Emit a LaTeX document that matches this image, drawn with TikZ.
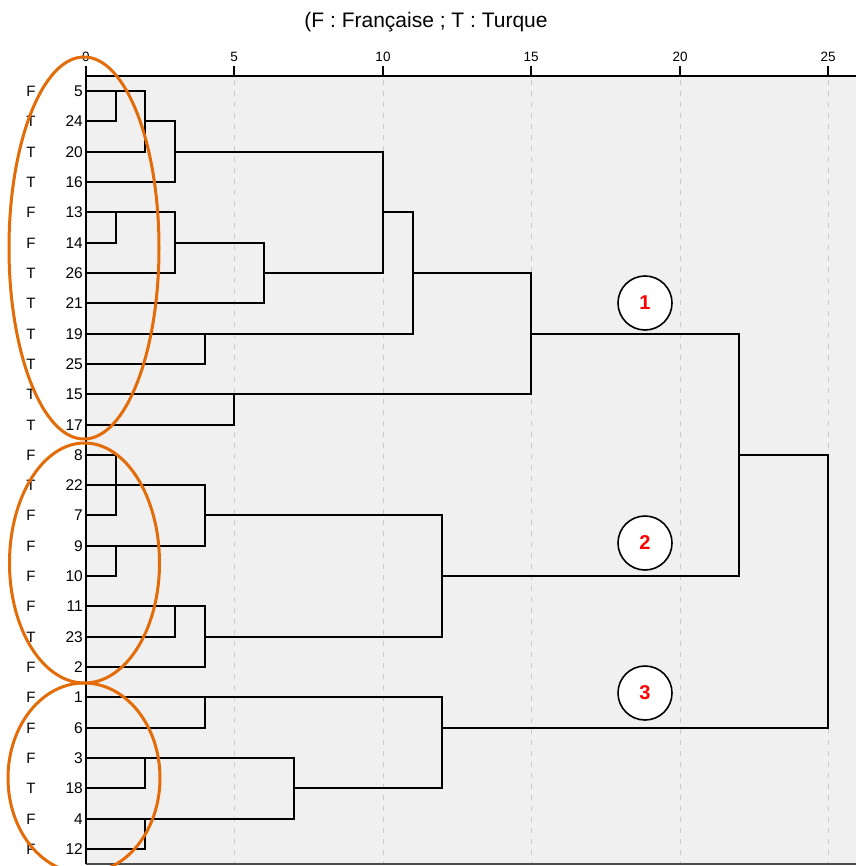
\documentclass[tikz,border=0pt]{standalone}
\usepackage{fontspec}
\setmainfont{Liberation Sans}
\definecolor{plotbg}{HTML}{F0F0F0}
\definecolor{gridc}{HTML}{CCCCCC}
\definecolor{orng}{HTML}{E36C09}
\definecolor{redtxt}{HTML}{FF0000}
\tikzset{
  declare function={rx(\d)=round(86+29.7*\d); ry(\i)=round(91+30.32*\i);},
  dl/.style={draw=black, line width=2pt, line cap=rect},
  axisline/.style={draw=black, line width=2pt},
  gridline/.style={draw=gridc, line width=1pt, dash pattern=on 5pt off 6pt},
  ticklabel/.style={font=\fontsize{13.5}{15}\selectfont, inner sep=0pt},
  leafnum/.style={font=\fontsize{15.5}{17}\selectfont, inner sep=0pt, anchor=east},
  leafgrp/.style={font=\fontsize{15}{17}\selectfont, inner sep=0pt},
  groupring/.style={draw=orng, line width=3pt},
  clusterbadge/.style={circle, draw=black, fill=white, line width=1.6pt, minimum size=54pt, inner sep=0pt, text=redtxt, font=\fontsize{20}{22}\bfseries\selectfont},
  titletext/.style={font=\fontsize{21}{24}\selectfont, inner sep=0pt}
}
\newcommand\gp[2]{({rx(#1)},{ry(#2)})}
\begin{document}
\begin{tikzpicture}[x=1pt,y=-1pt]
\useasboundingbox (0,0) rectangle (856,866);
\fill[plotbg] (86,76) rectangle (856,864);
\node[titletext] (title) at (426,22) {(F : Française ; T : Turque};
% grid
\foreach \d in {5,10,15,20,25} {
  \draw[gridline] ({rx(\d)+0.5},80) -- ({rx(\d)+0.5},864);
}
% axes
\draw[draw=black!70, line width=1.3pt] (86,864) -- (856,864);
\draw[axisline] (85,76) -- (856,76);
\draw[axisline] ({rx(0)},76) -- ({rx(0)},864);
\foreach \d in {0,5,10,15,20,25} {
  \draw[axisline] ({rx(\d)},66) -- ({rx(\d)},76);
  \node[ticklabel] (tick\d) at ({rx(\d)},57) {\d};
}
% leaf labels
\foreach \n/\g [count=\i from 0] in {5/F,24/T,20/T,16/T,13/F,14/F,26/T,21/T,19/T,25/T,15/T,17/T,8/F,22/T,7/F,9/F,10/F,11/F,23/T,2/F,1/F,6/F,3/F,18/T,4/F,12/F} {
  \node[leafnum] (num\n) at (83,{ry(\i)}) {\n};
  \node[leafgrp] (grp\n) at (31,{ry(\i)}) {\g};
}
% cluster 1
\draw[dl] \gp{0}{1} -| \gp{1}{0};
\draw[dl] \gp{0}{0} -| \gp{2}{2} -- \gp{0}{2};
\draw[dl] \gp{2}{1} -| \gp{3}{3} -- \gp{0}{3};
\draw[dl] \gp{3}{2} -| \gp{10}{6} -- \gp{6}{6};
\draw[dl] \gp{0}{5} -| \gp{1}{4};
\draw[dl] \gp{0}{4} -| \gp{3}{6} -- \gp{0}{6};
\draw[dl] \gp{3}{5} -| \gp{6}{7} -- \gp{0}{7};
\draw[dl] \gp{10}{4} -| \gp{11}{8} -- \gp{0}{8};
\draw[dl] \gp{4}{8} |- \gp{0}{9};
\draw[dl] \gp{11}{6} -| \gp{15}{10} -- \gp{0}{10};
\draw[dl] \gp{5}{10} |- \gp{0}{11};
\draw[dl] \gp{15}{8} -| \gp{22}{16} -- \gp{12}{16};
% cluster 2
\draw[dl] \gp{0}{12} -| \gp{1}{14} -- \gp{0}{14};
\draw[dl] \gp{0}{13} -| \gp{4}{15} -- \gp{0}{15};
\draw[dl] \gp{1}{15} |- \gp{0}{16};
\draw[dl] \gp{4}{14} -| \gp{12}{18} -- \gp{4}{18};
\draw[dl] \gp{0}{17} -| \gp{4}{19} -- \gp{0}{19};
\draw[dl] \gp{3}{17} |- \gp{0}{18};
\draw[dl] \gp{22}{12} -| \gp{25}{21} -- \gp{12}{21};
% cluster 3
\draw[dl] \gp{0}{20} -| \gp{12}{23} -- \gp{7}{23};
\draw[dl] \gp{4}{20} |- \gp{0}{21};
\draw[dl] \gp{0}{22} -| \gp{7}{24} -- \gp{0}{24};
\draw[dl] \gp{2}{22} |- \gp{0}{23};
\draw[dl] \gp{2}{24} |- \gp{0}{25};
% orange group rings
\draw[groupring] (84,248) ellipse [x radius=75, y radius=191];
\draw[groupring] (84.5,563) ellipse [x radius=75, y radius=120];
\draw[groupring] (84,778) ellipse [x radius=76, y radius=95];
% cluster badges
\node[clusterbadge] (c1) at (645,303) {1};
\node[clusterbadge] (c2) at (645,543) {2};
\node[clusterbadge] (c3) at (645,693) {3};
\end{tikzpicture}
\end{document}
